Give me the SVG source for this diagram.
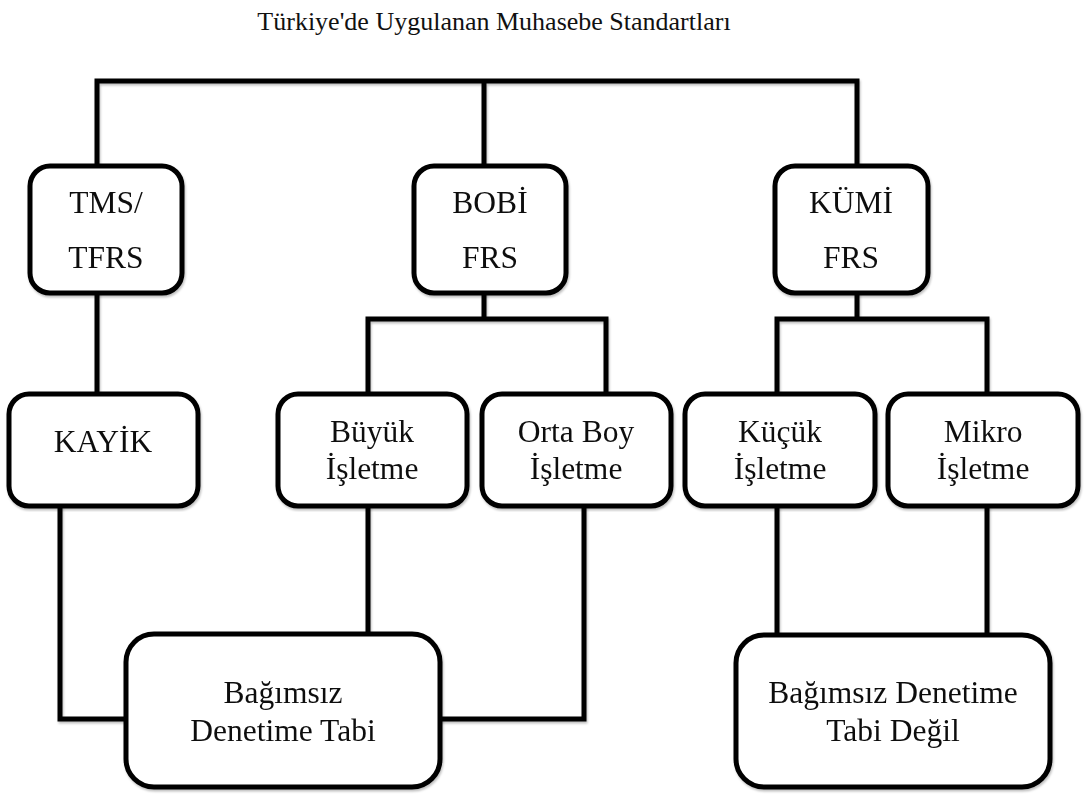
<svg xmlns="http://www.w3.org/2000/svg" width="1086" height="795" viewBox="0 0 1086 795">
<defs>
<filter id="sh" x="-5%" y="-5%" width="110%" height="110%">
<feDropShadow dx="1" dy="2" stdDeviation="1.2" flood-color="#000" flood-opacity="0.25"/>
</filter>
</defs>
<style>
.box{fill:#fff;stroke:#000;stroke-width:5}
.ln{fill:none;stroke:#000;stroke-width:5;stroke-linejoin:miter}
.t{font-family:"Liberation Serif","Times New Roman",serif;font-size:31.5px;fill:#111;text-anchor:middle}
.title{font-family:"Liberation Serif","Times New Roman",serif;font-size:26px;fill:#111;text-anchor:middle}
</style>
<rect width="1086" height="795" fill="#fff"/>
<text class="title" x="494" y="30">Türkiye'de Uygulanan Muhasebe Standartları</text>
<g id="connectors" filter="url(#sh)">
<path class="ln" d="M97,168 V81 H857 V168"/>
<path class="ln" d="M484,81 V168"/>
<path class="ln" d="M97,292 V394"/>
<path class="ln" d="M484,292 V319"/>
<path class="ln" d="M368,394 V319 H606 V394"/>
<path class="ln" d="M857,292 V319"/>
<path class="ln" d="M777,394 V319 H987 V394"/>
<path class="ln" d="M60,506 V719 H126"/>
<path class="ln" d="M368,506 V634"/>
<path class="ln" d="M584,506 V719 H440"/>
<path class="ln" d="M777,506 V635"/>
<path class="ln" d="M987,506 V635"/>
</g>
<g id="tms" filter="url(#sh)">
<rect class="box" x="30" y="166" width="152" height="127" rx="20"/>
<text class="t" x="106" y="213">TMS/</text>
<text class="t" x="106" y="268">TFRS</text>
</g>
<g id="bobi" filter="url(#sh)">
<rect class="box" x="414" y="166" width="152" height="127" rx="20"/>
<text class="t" x="490" y="213">BOBİ</text>
<text class="t" x="490" y="268">FRS</text>
</g>
<g id="kumi" filter="url(#sh)">
<rect class="box" x="775" y="166" width="153" height="127" rx="20"/>
<text class="t" x="851" y="213">KÜMİ</text>
<text class="t" x="851" y="268">FRS</text>
</g>
<g id="kayik" filter="url(#sh)">
<rect class="box" x="9" y="394" width="189" height="112" rx="20"/>
<text class="t" x="103" y="452">KAYİK</text>
</g>
<g id="buyuk" filter="url(#sh)">
<rect class="box" x="278" y="394" width="189" height="112" rx="20"/>
<text class="t" x="372" y="442">Büyük</text>
<text class="t" x="372" y="479">İşletme</text>
</g>
<g id="orta" filter="url(#sh)">
<rect class="box" x="482" y="394" width="189" height="112" rx="20"/>
<text class="t" x="576" y="442">Orta Boy</text>
<text class="t" x="576" y="479">İşletme</text>
</g>
<g id="kucuk" filter="url(#sh)">
<rect class="box" x="685" y="394" width="190" height="112" rx="20"/>
<text class="t" x="780" y="442">Küçük</text>
<text class="t" x="780" y="479">İşletme</text>
</g>
<g id="mikro" filter="url(#sh)">
<rect class="box" x="888" y="394" width="190" height="112" rx="20"/>
<text class="t" x="983" y="442">Mikro</text>
<text class="t" x="983" y="479">İşletme</text>
</g>
<g id="tabi" filter="url(#sh)">
<rect class="box" x="126" y="634" width="314" height="153" rx="28"/>
<text class="t" x="283" y="703">Bağımsız</text>
<text class="t" x="283" y="741">Denetime Tabi</text>
</g>
<g id="tabidegil" filter="url(#sh)">
<rect class="box" x="736" y="635" width="314" height="152" rx="28"/>
<text class="t" x="893" y="703">Bağımsız Denetime</text>
<text class="t" x="893" y="741">Tabi Değil</text>
</g>
</svg>
